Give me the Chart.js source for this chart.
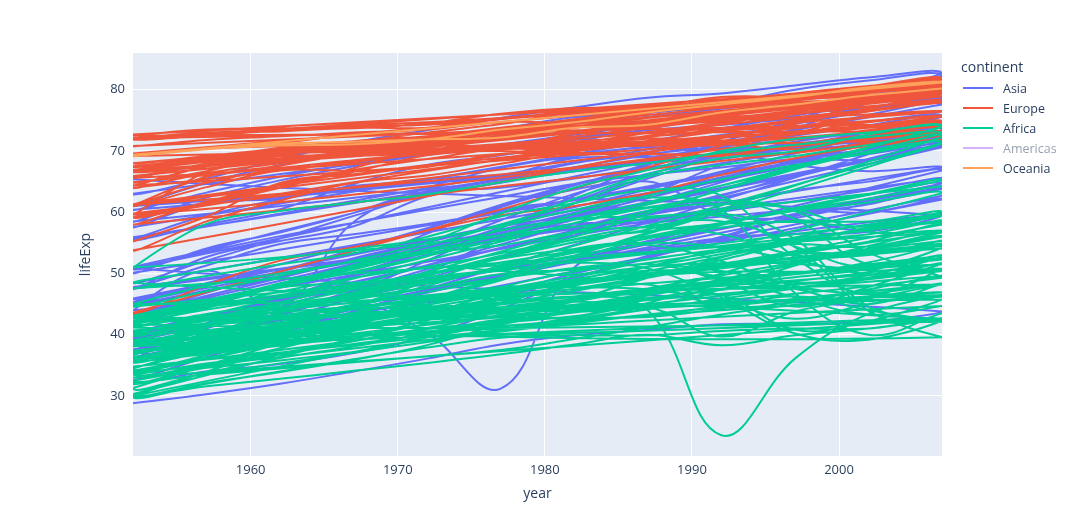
<!DOCTYPE html>
<html><head><meta charset="utf-8">
<script src="https://cdn.jsdelivr.net/npm/chart.js@4"></script>
<style>
body{margin:0;background:#fff;font-family:"Open Sans",sans-serif;}
#wrap{position:relative;width:1080px;height:532px;}
#legend{position:absolute;left:961px;top:57px;color:#2a3f5f;font-size:12.5px;}
#legend .t{font-size:14px;margin-bottom:2px;}
#legend .i{height:20px;display:flex;align-items:center;}
#legend .i span{display:inline-block;width:30px;height:2px;margin:0 10px 0 2px;}
</style></head><body>
<div id="wrap"><canvas id="c" width="1080" height="532"></canvas><div id="legend"></div></div>
<script>
var years = [1952,1957,1962,1967,1972,1977,1982,1987,1992,1997,2002,2007];
var xTicks = [1960,1970,1980,1990,2000];
var yTicks = [30,40,50,60,70,80];
var continents = ["Asia","Europe","Africa","Americas","Oceania"];
var colors = ["#636efa","#EF553B","#00cc96","#ab63fa","#FFA15A"];

var asia = [
[28.8,30.3,32.0,34.0,36.1,38.4,39.9,40.8,41.7,41.8,42.1,43.8],
[50.9,53.8,56.9,59.9,63.3,65.6,69.1,70.8,72.6,73.9,74.8,75.6],
[37.5,39.3,41.2,43.5,45.3,46.9,50.0,52.8,56.0,59.4,62.0,64.1],
[39.4,41.4,43.4,45.4,40.3,31.2,51.0,53.9,55.8,56.5,56.8,59.7],
[44.0,50.5,44.5,58.4,63.1,64.0,65.5,67.3,68.7,70.4,72.0,73.0],
[61.0,64.8,67.7,70.0,72.0,73.6,75.5,76.2,77.6,80.0,81.5,82.2],
[37.4,40.2,43.6,47.2,50.7,54.2,56.6,58.6,60.2,61.8,62.9,64.7],
[37.5,39.9,42.5,46.0,49.2,52.7,56.2,60.1,62.7,66.0,68.6,70.7],
[44.9,47.2,49.3,52.5,55.2,57.7,59.6,63.0,65.7,68.0,69.5,71.0],
[45.3,48.4,51.5,54.5,56.9,60.4,62.0,65.0,59.5,58.8,57.0,59.5],
[65.4,67.8,69.4,70.8,71.6,73.1,74.5,75.6,76.9,78.3,79.7,80.7],
[63.0,65.5,68.7,71.4,73.4,75.4,77.1,78.7,79.4,80.7,82.0,82.6],
[43.2,45.7,48.1,51.6,56.5,61.1,63.7,65.9,68.0,69.8,71.3,72.5],
[50.1,54.1,56.7,59.9,64.0,67.2,69.1,70.6,70.0,67.7,66.7,67.3],
[47.5,52.7,55.3,57.7,62.6,64.8,67.1,69.8,72.2,74.6,77.0,78.6],
[55.6,58.0,60.5,64.6,67.7,69.3,71.3,74.2,75.2,76.2,76.9,77.6],
[55.9,59.5,62.1,63.9,65.4,66.1,67.0,67.9,69.3,70.3,71.0,72.0],
[48.5,52.1,55.7,59.4,63.0,65.3,68.0,69.5,70.7,71.9,73.0,74.2],
[42.2,45.2,48.3,51.3,53.8,55.5,57.5,60.2,61.3,63.6,65.0,66.8],
[36.3,41.9,45.1,49.4,53.1,56.1,58.1,58.3,59.3,60.3,60.0,62.1],
[36.2,37.7,39.4,41.2,43.3,46.0,49.4,52.5,55.7,59.4,61.3,63.8],
[37.6,40.1,43.2,47.0,52.1,57.4,62.7,67.7,71.2,72.5,74.2,75.6],
[43.4,45.6,47.7,49.8,51.9,54.0,56.2,58.2,60.1,61.8,63.6,65.5],
[47.8,51.3,54.8,56.4,58.1,60.1,62.1,64.2,66.5,68.6,70.3,71.7],
[39.9,42.9,45.9,49.9,53.9,58.7,63.0,66.3,68.8,70.5,71.6,72.8],
[60.4,63.2,65.8,67.9,69.5,70.8,71.8,73.6,75.8,77.2,78.8,80.0],
[57.6,61.5,62.2,64.3,65.0,65.9,68.8,69.0,70.4,70.5,70.8,72.4],
[45.9,48.3,50.3,53.7,57.3,61.2,64.6,67.0,69.2,71.5,73.1,74.1],
[58.5,62.4,65.2,67.5,69.4,70.6,72.2,73.4,74.3,75.3,76.9,78.4],
[50.8,53.6,56.1,58.3,60.4,62.5,64.6,66.1,67.3,68.7,68.6,70.6],
[40.4,42.9,45.4,47.8,50.3,55.8,58.8,62.8,67.7,70.7,73.0,74.2],
[43.2,45.7,48.1,51.6,56.5,60.8,64.4,67.0,69.7,71.1,72.4,73.4],
[32.5,34.0,35.2,37.0,39.8,44.2,49.1,52.9,55.6,58.0,60.3,62.7]
];
var europe = [
[55.2,59.3,64.8,66.2,67.7,68.9,70.4,72.0,71.6,73.0,75.7,76.4],
[66.8,67.5,69.5,70.1,70.6,72.2,73.2,74.9,76.0,77.5,79.0,79.8],
[68.0,69.2,70.3,70.9,71.4,72.8,73.9,75.4,76.5,77.5,78.3,79.4],
[53.8,58.5,61.9,64.8,66.0,67.9,69.9,71.1,72.2,73.2,74.1,74.9],
[59.6,66.6,69.5,70.4,70.9,70.8,71.3,71.3,71.2,70.3,72.1,73.0],
[61.2,64.8,67.1,68.5,69.6,70.6,70.5,71.5,72.5,73.7,74.9,75.7],
[66.9,69.0,69.9,70.4,70.3,70.7,71.0,71.6,72.4,74.0,75.5,76.5],
[70.8,71.8,72.4,73.0,73.5,74.7,74.6,74.8,75.3,76.1,77.2,78.3],
[66.6,67.5,68.8,69.8,70.9,72.5,74.6,74.8,75.7,77.1,78.4,79.3],
[67.4,68.9,70.5,71.6,72.4,73.8,74.9,76.3,77.5,78.6,79.6,80.7],
[67.5,69.1,70.3,70.8,71.0,72.5,73.8,74.8,76.1,77.3,78.7,79.4],
[65.9,67.9,69.5,71.0,72.3,73.7,75.2,76.7,77.0,77.9,78.3,79.5],
[64.0,66.4,68.0,69.5,69.8,70.0,69.4,69.6,69.2,71.0,72.6,73.3],
[72.5,73.5,73.7,73.7,74.5,76.1,77.0,77.2,78.8,79.0,80.5,81.8],
[66.9,68.9,70.3,71.1,71.3,72.0,73.1,74.4,75.5,76.1,77.8,78.9],
[65.9,67.8,69.2,71.1,72.2,73.5,75.0,76.4,77.4,78.8,80.2,80.5],
[59.2,61.4,64.0,67.2,70.6,73.1,74.1,74.9,75.4,75.4,74.0,74.5],
[72.1,73.0,73.2,73.8,73.8,75.2,76.1,76.8,77.4,78.0,78.5,79.8],
[72.7,73.4,73.5,74.1,74.3,75.4,76.0,75.9,77.3,78.3,79.1,80.2],
[61.3,65.8,67.6,69.6,70.9,70.7,71.3,71.0,71.0,72.8,74.7,75.6],
[59.8,61.5,64.4,66.6,69.3,70.4,72.8,74.1,74.9,76.0,77.3,78.1],
[61.1,64.1,66.8,66.8,67.4,69.5,69.7,69.5,69.4,69.7,71.3,72.5],
[58.0,61.7,64.5,66.9,68.7,70.3,70.2,71.2,71.7,72.2,73.2,74.0],
[64.4,67.5,69.5,70.1,70.1,70.5,70.8,71.1,71.4,72.7,73.8,74.7],
[65.6,67.9,69.2,69.2,69.8,71.0,71.1,72.3,73.6,75.1,76.7,77.9],
[64.9,66.7,69.7,71.4,73.0,74.4,76.3,76.9,77.6,78.8,79.8,80.9],
[71.9,72.5,73.4,74.2,74.7,75.4,76.4,77.2,78.2,79.4,80.0,80.9],
[69.6,70.6,71.3,72.8,73.8,75.4,76.2,77.4,78.0,79.4,80.6,81.7],
[43.6,48.1,52.1,54.3,57.0,59.5,61.0,63.1,66.1,68.8,70.8,71.8],
[69.2,70.4,70.8,71.4,72.0,72.8,74.0,75.0,76.4,77.2,78.5,79.4]
];
var africa = [
[43.1,45.7,48.3,51.4,54.5,58.0,61.4,65.8,67.7,69.2,71.0,72.3],
[30.0,32.0,34.0,36.0,37.9,39.5,39.9,39.9,40.6,41.0,41.0,42.7],
[38.2,40.4,42.6,44.9,47.0,49.2,50.9,52.3,53.9,54.8,54.4,56.7],
[47.6,49.6,51.5,53.3,56.0,59.3,61.5,63.6,62.7,52.6,46.6,50.7],
[32.0,34.9,37.8,40.7,43.6,46.1,48.1,49.6,50.3,50.3,50.7,52.3],
[39.0,40.5,42.0,43.5,44.1,45.9,47.5,48.2,44.7,45.3,47.4,49.6],
[38.5,40.4,42.6,44.8,47.0,49.4,54.0,55.0,54.3,52.2,49.9,50.4],
[35.5,37.5,39.5,41.5,43.5,46.8,48.3,50.5,49.4,46.1,43.3,44.7],
[38.1,39.9,41.7,43.6,45.6,47.4,49.5,51.1,51.7,51.6,50.5,50.7],
[40.7,42.5,44.5,46.5,48.9,50.9,52.9,54.9,57.9,60.7,63.0,65.2],
[39.1,40.7,42.1,44.1,45.9,47.8,47.8,47.4,45.5,42.6,45.0,46.5],
[42.1,45.1,48.4,51.0,53.3,54.6,56.7,57.5,56.4,53.0,53.0,55.3],
[40.5,42.5,44.9,47.4,49.8,52.4,54.0,54.7,52.0,48.0,46.8,48.3],
[34.8,37.3,39.7,42.1,44.4,46.5,48.8,50.0,51.6,53.2,53.4,54.8],
[41.9,44.4,47.0,49.3,51.1,53.3,56.0,59.8,63.7,67.2,69.8,71.3],
[34.5,36.0,37.5,39.0,40.5,42.0,43.7,45.7,47.5,48.2,49.3,51.6],
[35.9,38.0,40.2,42.2,44.1,44.5,43.9,46.5,50.0,53.4,55.2,58.0],
[34.1,36.7,40.1,42.1,43.5,44.5,44.9,46.7,48.1,49.4,50.7,52.9],
[37.0,39.0,40.5,44.6,48.7,52.8,56.6,60.2,61.4,60.5,56.8,56.7],
[30.0,32.1,33.9,35.9,38.3,41.8,45.6,49.3,52.6,55.9,58.0,59.4],
[43.1,44.8,46.5,48.1,49.9,51.8,53.7,55.7,57.5,58.6,58.5,60.0],
[33.6,34.6,35.8,37.2,38.8,40.8,42.9,45.2,48.6,51.5,53.7,56.0],
[32.5,33.5,34.5,35.5,36.5,37.5,39.3,41.2,43.3,44.9,45.5,46.4],
[42.3,44.7,47.9,50.7,53.6,56.2,58.8,59.3,59.3,54.4,51.0,54.1],
[42.1,45.0,47.7,48.5,49.8,52.5,55.1,57.2,59.7,55.6,44.6,42.6],
[38.5,39.5,40.5,41.5,42.6,43.8,44.9,46.0,46.5,40.8,42.2,45.7],
[42.7,45.3,48.0,50.2,52.8,57.4,62.2,66.2,68.8,70.0,72.7,74.0],
[36.7,38.9,40.8,42.9,44.9,46.9,49.0,49.4,52.2,55.0,57.3,59.4],
[36.3,37.2,38.4,39.5,41.8,43.8,45.6,47.5,49.4,47.5,45.0,48.3],
[33.7,35.3,36.9,38.5,40.0,41.7,43.9,46.4,48.4,49.9,51.8,54.5],
[40.5,42.3,44.2,46.3,48.4,50.9,53.6,56.1,58.3,60.4,62.2,64.2],
[51.0,58.1,60.2,61.6,62.9,64.9,66.7,68.0,69.7,71.0,72.3,72.8],
[42.9,45.4,47.9,50.3,52.9,55.7,59.7,62.7,65.4,67.7,69.6,71.2],
[31.3,33.8,36.2,38.1,40.3,42.5,42.8,42.9,44.3,46.3,44.0,42.1],
[41.7,45.2,48.4,51.2,53.9,57.0,59.0,60.8,62.0,58.9,51.5,52.9],
[37.4,38.6,39.5,40.1,40.5,41.3,42.6,44.6,47.4,51.3,54.5,56.9],
[36.3,37.8,39.4,41.0,42.8,44.5,45.8,46.9,47.5,47.5,46.6,46.9],
[40.0,41.5,43.0,44.1,44.6,45.0,46.2,44.0,23.6,36.1,43.4,46.2],
[37.3,39.3,41.5,43.6,45.8,48.9,52.4,55.8,58.2,60.2,61.6,63.1],
[30.3,31.6,32.8,34.1,35.4,36.8,38.4,40.0,38.3,39.9,41.0,42.6],
[33.0,35.0,37.0,39.0,41.0,42.0,43.0,44.5,39.7,43.8,45.9,48.2],
[45.0,48.0,50.0,51.9,53.7,55.5,58.2,60.7,61.9,60.2,53.4,49.3],
[38.6,39.6,40.9,42.9,45.0,47.8,50.3,51.7,53.6,55.4,56.4,58.6],
[41.4,43.4,45.0,46.6,49.6,52.5,55.6,57.7,58.5,54.3,43.9,39.6],
[41.2,43.0,44.2,45.8,47.6,49.9,50.6,51.5,50.4,48.5,49.7,52.5],
[38.6,41.2,43.9,46.8,49.8,52.9,55.5,56.9,58.1,58.4,57.6,58.4],
[44.6,47.1,49.6,52.1,55.1,59.8,64.0,66.9,70.0,72.0,73.0,73.9],
[40.0,42.6,45.3,48.1,51.0,50.4,49.8,51.5,48.8,44.6,47.8,51.5],
[42.0,44.1,46.0,47.8,50.1,51.4,51.8,50.8,46.1,40.2,39.2,42.4],
[48.5,50.5,52.4,54.0,55.6,57.7,60.4,62.4,60.4,46.8,40.0,43.5]
];
var americas = [
[62.5,64.4,65.1,65.6,67.1,68.5,69.9,70.8,71.9,73.3,74.3,75.3],
[68.8,70.0,71.3,72.1,72.9,74.2,75.8,76.9,77.9,78.6,79.8,80.7],
[68.4,69.5,70.2,70.8,71.3,73.4,74.7,75.0,76.1,76.8,77.3,78.2]
];
var oceania = [
[69.1,70.3,70.9,71.1,71.9,73.5,74.7,76.3,77.6,78.8,80.4,81.2],
[69.4,70.3,71.2,71.5,71.9,72.2,73.8,74.3,76.3,77.6,79.1,80.2]
];
var groups = [asia, europe, africa, americas, oceania];

// one trace per continent: countries joined end to end
var datasets = groups.map(function (g, i) {
    var pts = [];
    g.forEach(function (row) {
        row.forEach(function (v, j) { pts.push({x: years[j], y: v}); });
    });
    return {
        label: continents[i], data: pts, borderColor: colors[i], backgroundColor: colors[i],
        borderWidth: 2, pointRadius: 0, tension: 0.4, showLine: true, hidden: i === 3,
        order: 10 - i // later traces on top, like plotly
    };
});

var tickFont = {family: "Open Sans", size: 13};
new Chart(document.getElementById("c"), {
    type: 'scatter',
    data: {datasets: datasets},
    plugins: [{
        id: 'bg',
        beforeDraw: function (ch) {
            var a = ch.chartArea, ctx = ch.ctx;
            ctx.save(); ctx.fillStyle = "#E5ECF6";
            ctx.fillRect(a.left, a.top, a.right - a.left, a.bottom - a.top); ctx.restore();
        }
    }],
    options: {
        responsive: false, animation: false,
        layout: {padding: {left: 74, right: 138, top: 53, bottom: 26}},
        plugins: {legend: {display: false}, tooltip: {enabled: false}},
        scales: {
            x: {
                type: 'linear', min: 1952, max: 2007,
                afterBuildTicks: function (s) { s.ticks = xTicks.map(function (v) { return {value: v}; }); },
                afterFit: function (s) { s.height = 50; },
                grid: {color: "#fff", lineWidth: 1, drawTicks: false}, border: {display: false},
                ticks: {color: "#2a3f5f", font: tickFont, padding: 6, callback: function (v) { return v; }},
                title: {display: true, text: "year", color: "#2a3f5f", font: {family: "Open Sans", size: 14}}
            },
            y: {
                min: 20.2, max: 86,
                afterBuildTicks: function (s) { s.ticks = yTicks.map(function (v) { return {value: v}; }); },
                afterFit: function (s) { s.width = 59; },
                grid: {color: "#fff", lineWidth: 1, drawTicks: false}, border: {display: false},
                ticks: {color: "#2a3f5f", font: tickFont, padding: 8},
                title: {display: true, text: "lifeExp", color: "#2a3f5f", font: {family: "Open Sans", size: 14}}
            }
        }
    }
});

var lg = '<div class="t">continent</div>';
continents.forEach(function (c, i) {
    var hid = i === 3;
    lg += '<div class="i" style="' + (hid ? 'opacity:0.5' : '') + '"><span style="background:' + colors[i] + '"></span>' + c + '</div>';
});
document.getElementById("legend").innerHTML = lg;
</script>
</body></html>
